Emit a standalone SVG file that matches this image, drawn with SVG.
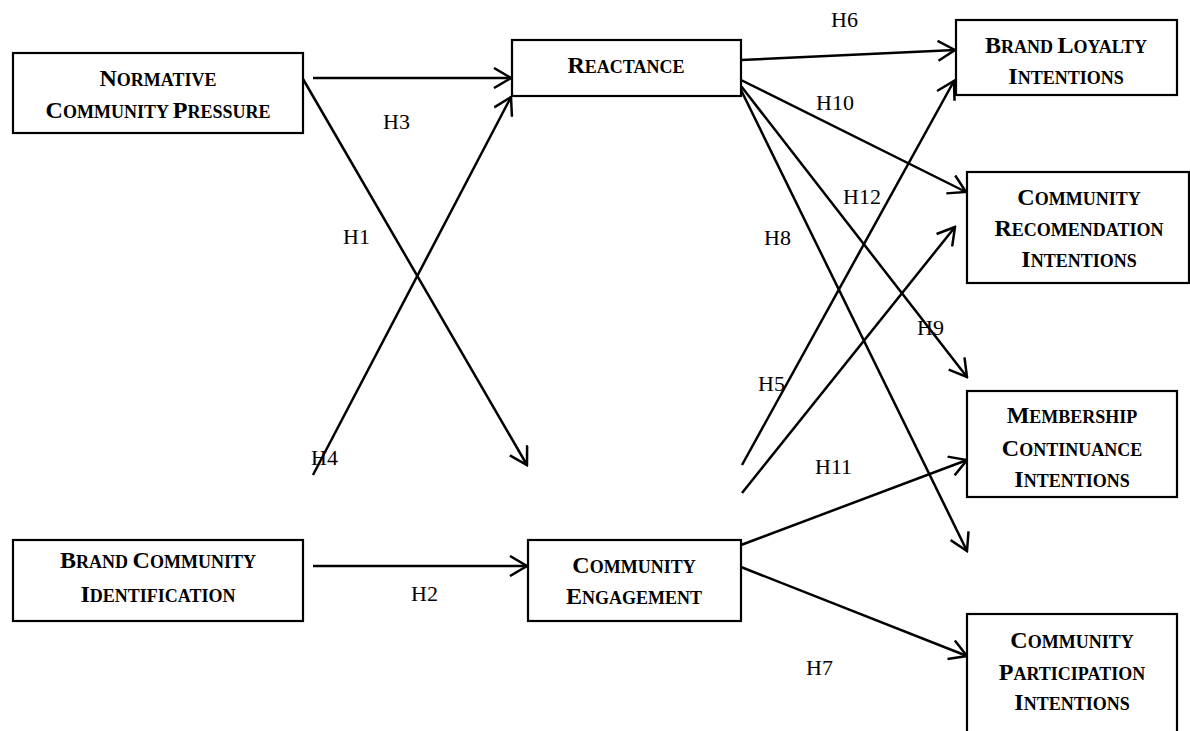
<svg xmlns="http://www.w3.org/2000/svg" width="1190" height="731" viewBox="0 0 1190 731">
<style>
.box{fill:#fff;stroke:#000;stroke-width:2.2}
.t{font-family:"Liberation Serif","Times New Roman",serif;font-weight:bold;font-size:18px;text-anchor:middle;fill:#000}
.c{font-size:24px}
.lbl{font-family:"Liberation Serif","Times New Roman",serif;font-size:22px;fill:#000}
.ln{stroke:#000;stroke-width:2.5;fill:none;marker-end:url(#ah)}
</style>
<defs>
<marker id="ah" viewBox="0 0 20 22" refX="18" refY="11" markerWidth="20" markerHeight="22" markerUnits="userSpaceOnUse" orient="auto">
<path d="M1,1 L18,11 L1,21" fill="none" stroke="#000" stroke-width="2.5"/>
</marker>
</defs>
<rect width="1190" height="731" fill="#fff"/>
<g id="connectors">
<line class="ln" x1="313" y1="78" x2="511" y2="78"/>
<line class="ln" x1="313" y1="566" x2="527" y2="566"/>
<line class="ln" x1="303" y1="79" x2="527" y2="465"/>
<line class="ln" x1="313" y1="475" x2="511" y2="97"/>
<line class="ln" x1="741" y1="60" x2="955" y2="50"/>
<line class="ln" x1="741" y1="80" x2="966" y2="192"/>
<line class="ln" x1="741" y1="86" x2="967" y2="377"/>
<line class="ln" x1="741" y1="90" x2="967" y2="551"/>
<line class="ln" x1="742" y1="465" x2="954" y2="81"/>
<line class="ln" x1="742" y1="493" x2="955" y2="227"/>
<line class="ln" x1="741" y1="545" x2="967" y2="460"/>
<line class="ln" x1="741" y1="567" x2="967" y2="656"/>
</g>
<g id="labels">
<text class="lbl" x="831" y="27">H6</text>
<text class="lbl" x="383" y="129">H3</text>
<text class="lbl" x="816" y="110">H10</text>
<text class="lbl" x="843" y="204">H12</text>
<text class="lbl" x="343" y="244">H1</text>
<text class="lbl" x="764" y="245">H8</text>
<text class="lbl" x="917" y="335">H9</text>
<text class="lbl" x="758" y="391">H5</text>
<text class="lbl" x="311" y="465">H4</text>
<text class="lbl" x="815" y="474">H11</text>
<text class="lbl" x="411" y="601">H2</text>
<text class="lbl" x="806" y="675">H7</text>
</g>
<g id="ncp">
<rect class="box" x="13" y="53" width="290" height="80"/>
<text class="t" x="158" y="86"><tspan class="c">N</tspan>ORMATIVE</text>
<text class="t" x="158" y="118"><tspan class="c">C</tspan>OMMUNITY <tspan class="c">P</tspan>RESSURE</text>
</g>
<g id="reactance">
<rect class="box" x="512" y="40" width="229" height="56"/>
<text class="t" x="626" y="73"><tspan class="c">R</tspan>EACTANCE</text>
</g>
<g id="bci">
<rect class="box" x="13" y="540" width="290" height="81"/>
<text class="t" x="158" y="568"><tspan class="c">B</tspan>RAND <tspan class="c">C</tspan>OMMUNITY</text>
<text class="t" x="158" y="602"><tspan class="c">I</tspan>DENTIFICATION</text>
</g>
<g id="ce">
<rect class="box" x="528" y="540" width="213" height="81"/>
<text class="t" x="634" y="573"><tspan class="c">C</tspan>OMMUNITY</text>
<text class="t" x="634" y="604"><tspan class="c">E</tspan>NGAGEMENT</text>
</g>
<g id="bli">
<rect class="box" x="956" y="20" width="221" height="75"/>
<text class="t" x="1066" y="53"><tspan class="c">B</tspan>RAND <tspan class="c">L</tspan>OYALTY</text>
<text class="t" x="1066" y="84"><tspan class="c">I</tspan>NTENTIONS</text>
</g>
<g id="cri">
<rect class="box" x="967" y="172" width="222" height="111"/>
<text class="t" x="1079" y="205"><tspan class="c">C</tspan>OMMUNITY</text>
<text class="t" x="1079" y="236"><tspan class="c">R</tspan>ECOMENDATION</text>
<text class="t" x="1079" y="267"><tspan class="c">I</tspan>NTENTIONS</text>
</g>
<g id="mci">
<rect class="box" x="967" y="391" width="210" height="106"/>
<text class="t" x="1072" y="423"><tspan class="c">M</tspan>EMBERSHIP</text>
<text class="t" x="1072" y="456"><tspan class="c">C</tspan>ONTINUANCE</text>
<text class="t" x="1072" y="487"><tspan class="c">I</tspan>NTENTIONS</text>
</g>
<g id="cpi">
<rect class="box" x="967" y="614" width="210" height="130"/>
<text class="t" x="1072" y="648"><tspan class="c">C</tspan>OMMUNITY</text>
<text class="t" x="1072" y="680"><tspan class="c">P</tspan>ARTICIPATION</text>
<text class="t" x="1072" y="710"><tspan class="c">I</tspan>NTENTIONS</text>
</g>
</svg>
